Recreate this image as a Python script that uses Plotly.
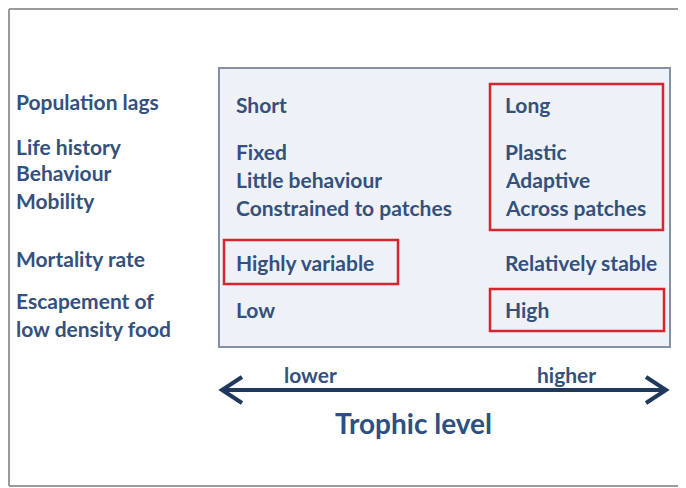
import plotly.graph_objects as go

# row labels and the two trophic-level columns
row_labels = ["Population lags", "Life history", "Behaviour", "Mobility",
              "Mortality rate", "Escapement of", "low density food"]
lower_values = ["Short", "Fixed", "Little behaviour", "Constrained to patches",
                "Highly variable", "Low"]
higher_values = ["Long", "Plastic", "Adaptive", "Across patches",
                 "Relatively stable", "High"]
axis_ends = ["lower", "higher"]
axis_title = "Trophic level"

# page has an 8px body margin, so the figure is drawn in page pixel coords
OFF = 8
W, H = 686 - OFF, 488 - OFF
txt = "#34507c"
font = "Lato"

label_y = [101, 146, 172, 200, 258, 300, 328]
value_y = [104, 151, 179, 207, 262, 309]

fig = go.Figure()

shapes = []
# outer frame (top, left, bottom only - right edge is off the picture)
frame = dict(color="#9a9a9a", width=2)
shapes.append(dict(type="line", x0=9, y0=9, x1=OFF + W, y1=9, line=frame))
shapes.append(dict(type="line", x0=9, y0=9, x1=9, y1=486, line=frame))
shapes.append(dict(type="line", x0=9, y0=486, x1=OFF + W, y1=486, line=frame))
# main panel
shapes.append(dict(type="rect", x0=219, y0=68, x1=670, y1=347,
                   line=dict(color="#8391a6", width=2), fillcolor="#eef2f8", layer="below"))
# red highlight boxes
red = "#d8242f"
for x0, y0, x1, y1 in [(490, 84, 663, 230), (224, 240, 398, 284), (490, 289, 664, 331)]:
    shapes.append(dict(type="rect", x0=x0, y0=y0, x1=x1, y1=y1,
                       line=dict(color=red, width=2.5)))
# double arrow
navy = "#20385c"
shapes.append(dict(type="line", x0=224, y0=390, x1=664, y1=390,
                   line=dict(color=navy, width=4)))
shapes.append(dict(type="path", path="M 242,377 L 222,390 L 242,403",
                   line=dict(color=navy, width=4)))
shapes.append(dict(type="path", path="M 646,377 L 666,390 L 646,403",
                   line=dict(color=navy, width=4)))

ann = []
for lab, y in zip(row_labels, label_y):
    ann.append(dict(x=14, y=y, text=lab, xanchor="left"))
for lab, y in zip(lower_values, value_y):
    ann.append(dict(x=234, y=y, text=lab, xanchor="left"))
for lab, y in zip(higher_values, value_y):
    ann.append(dict(x=503, y=y, text=lab, xanchor="left"))
ann.append(dict(x=310, y=374, text=axis_ends[0], xanchor="center"))
ann.append(dict(x=566, y=374, text=axis_ends[1], xanchor="center"))
for a in ann:
    a.update(xref="x", yref="y", showarrow=False, yanchor="middle",
             font=dict(family=font, size=21, color=txt))
ann.append(dict(x=413, y=423, text=axis_title, xref="x", yref="y", showarrow=False,
                xanchor="center", yanchor="middle",
                font=dict(family=font, size=28, color="#2e5080")))

fig.update_layout(
    width=W, height=H,
    margin=dict(l=0, r=0, t=0, b=0),
    paper_bgcolor="white", plot_bgcolor="white",
    xaxis=dict(range=[OFF, OFF + W], visible=False, fixedrange=True),
    yaxis=dict(range=[OFF + H, OFF], visible=False, fixedrange=True),
    shapes=shapes, annotations=ann, showlegend=False,
)
fig.update_annotations(font_weight="bold")

fig.write_html("out.html")
